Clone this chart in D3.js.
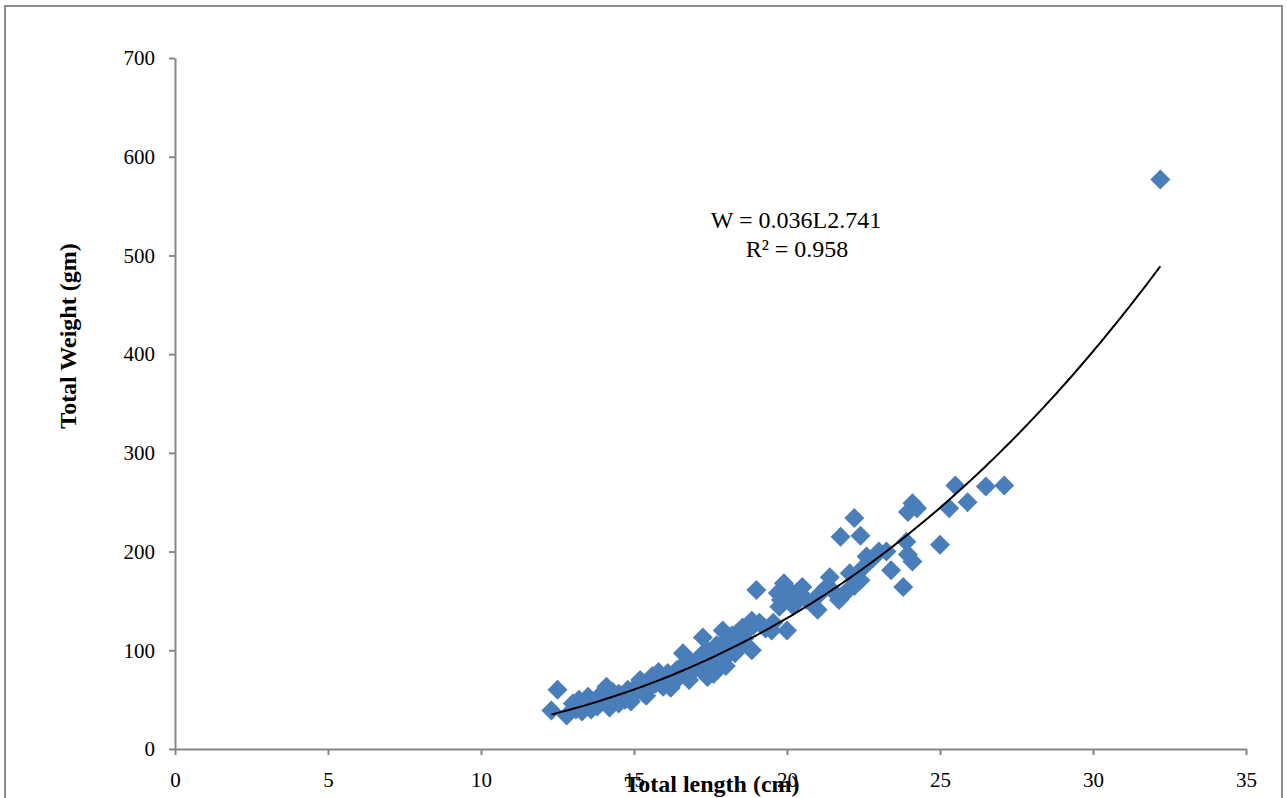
<!DOCTYPE html>
<html>
<head>
<meta charset="utf-8">
<title>Length-weight relationship</title>
<script src="https://d3js.org/d3.v7.min.js"></script>
<style>
  body { margin: 0; background: #ffffff; }
  svg text { font-family: "Liberation Serif", "Times New Roman", serif; fill: #000; }
</style>
</head>
<body>
<svg width="1287" height="798"></svg>
<script>
  // observed fish: total length (cm) and total weight (gm)
  var lengths = [12.3, 12.5, 12.8, 13.0, 13.1, 13.2, 13.4, 13.5, 13.6, 13.7, 13.8, 13.9, 14.0, 14.1, 14.1, 14.2, 14.3, 14.4, 14.5, 14.5,
                 14.6, 14.7, 14.8, 14.9, 15.0, 15.1, 15.2, 15.2, 15.3, 15.4, 15.5, 15.6, 15.6, 15.7, 15.8, 15.9, 15.95, 16.0, 16.1, 16.2,
                 16.3, 16.4, 16.5, 16.6, 16.6, 16.7, 16.8, 16.9, 17.0, 17.05, 17.1, 17.2, 17.25, 17.3, 17.4, 17.4, 17.5, 17.6, 17.6, 17.7,
                 17.7, 17.8, 17.9, 17.9, 18.0, 18.0, 18.0, 18.1, 18.2, 18.35, 18.4, 18.55, 18.6, 18.7, 18.85, 18.85, 18.9, 19.0, 19.1, 19.3,
                 19.5, 19.55, 19.7, 19.75, 19.8, 19.9, 20.0, 20.0, 20.1, 20.2, 20.3, 20.5, 20.65, 20.8, 21.0, 21.1, 21.3, 21.4, 21.5, 21.7,
                 21.75, 21.8, 22.0, 22.05, 22.2, 22.2, 22.4, 22.4, 22.5, 22.6, 22.8, 23.0, 23.25, 23.4, 23.8, 23.9, 23.95, 23.95, 24.1, 24.1,
                 24.25, 25.0, 25.3, 25.5, 25.9, 26.5, 27.1, 32.2,
                 13.3, 14.2, 14.9, 15.4, 16.2, 16.8, 17.3, 18.3];
  var weights = [39, 60, 34, 46, 40, 50, 44, 53, 40, 47, 43, 55, 50, 63, 46, 52, 58, 48, 46, 56,
                 52, 50, 60, 57, 55, 64, 70, 60, 57, 65, 62, 68, 74, 66, 78, 70, 63, 72, 77, 68,
                 67, 80, 75, 97, 85, 80, 90, 78, 82, 90, 86, 95, 113, 80, 73, 100, 88, 95, 76, 80,
                 105, 85, 120, 98, 93, 110, 84, 107, 115, 117, 105, 123, 112, 120, 130, 100, 125, 161, 128, 122,
                 120, 128, 158, 144, 151, 168, 163, 120, 150, 145, 158, 164, 151, 148, 141, 158, 164, 174, 160, 151,
                 215, 155, 161, 178, 234, 165, 216, 171, 184, 195, 193, 200, 200, 181, 164, 210, 197, 240, 190, 249,
                 244, 207, 244, 267, 250, 266, 267, 577,
                 38, 42, 48, 54, 62, 70, 78, 97];

  var xTicks = [0, 5, 10, 15, 20, 25, 30, 35];
  var yTicks = [0, 100, 200, 300, 400, 500, 600, 700];

  // power trendline as printed on the chart: W = 0.036 L^2.741
  var fitA = 0.036, fitB = 2.741;

  var svg = d3.select("svg");
  var axisColor = "#868686";

  // outer chart frame
  svg.append("rect")
     .attr("x", 5).attr("y", 6)
     .attr("width", 1277).attr("height", 800)
     .attr("fill", "none")
     .attr("stroke", "#8c8c8c")
     .attr("stroke-width", 2);

  var x = d3.scaleLinear().domain([0, 35]).range([175, 1246]);
  var y = d3.scaleLinear().domain([0, 700]).range([749, 58]);

  // y axis
  var yAxis = svg.append("g")
     .attr("transform", "translate(175,0)")
     .call(d3.axisLeft(y).tickValues(yTicks).tickSize(6).tickSizeOuter(0).tickPadding(14));

  // x axis
  var xAxis = svg.append("g")
     .attr("transform", "translate(0,749)")
     .call(d3.axisBottom(x).tickValues(xTicks).tickSize(6).tickSizeOuter(0).tickPadding(17));

  [xAxis, yAxis].forEach(function(a) {
    a.select(".domain").attr("stroke", axisColor).attr("stroke-width", 2);
    a.selectAll(".tick line").attr("stroke", axisColor).attr("stroke-width", 2);
    a.selectAll(".tick text")
     .style("font-family", "'Liberation Serif', 'Times New Roman', serif")
     .style("font-size", "21px")
     .attr("fill", "#000");
  });

  // trendline from the smallest to the largest fish
  var xs = d3.range(d3.min(lengths), d3.max(lengths) + 0.001, 0.1);
  var line = d3.line()
     .x(function(d) { return x(d); })
     .y(function(d) { return y(fitA * Math.pow(d, fitB)); })
     .curve(d3.curveBasis);

  // points
  var diamond = "M0,-10L10,0L0,10L-10,0Z";
  svg.append("g").selectAll("path")
     .data(d3.zip(lengths, weights))
     .enter().append("path")
     .attr("d", diamond)
     .attr("transform", function(d) { return "translate(" + x(d[0]) + "," + y(d[1]) + ")"; })
     .attr("fill", "#4a7ebb");

  svg.append("path")
     .datum(xs)
     .attr("d", line)
     .attr("fill", "none")
     .attr("stroke", "#000")
     .attr("stroke-width", 2);

  // equation label
  svg.append("text")
     .attr("x", 796).attr("y", 228)
     .attr("text-anchor", "middle")
     .style("font-size", "24px")
     .text("W = 0.036L2.741");
  svg.append("text")
     .attr("x", 797).attr("y", 257)
     .attr("text-anchor", "middle")
     .style("font-size", "24px")
     .text("R² = 0.958");

  // axis titles
  svg.append("text")
     .attr("transform", "translate(76,336) rotate(-90)")
     .attr("text-anchor", "middle")
     .style("font-size", "24px")
     .style("font-weight", "bold")
     .text("Total Weight (gm)");

  svg.append("text")
     .attr("x", 712).attr("y", 792)
     .attr("text-anchor", "middle")
     .style("font-size", "24px")
     .style("font-weight", "bold")
     .text("Total length (cm)");
</script>
</body>
</html>
